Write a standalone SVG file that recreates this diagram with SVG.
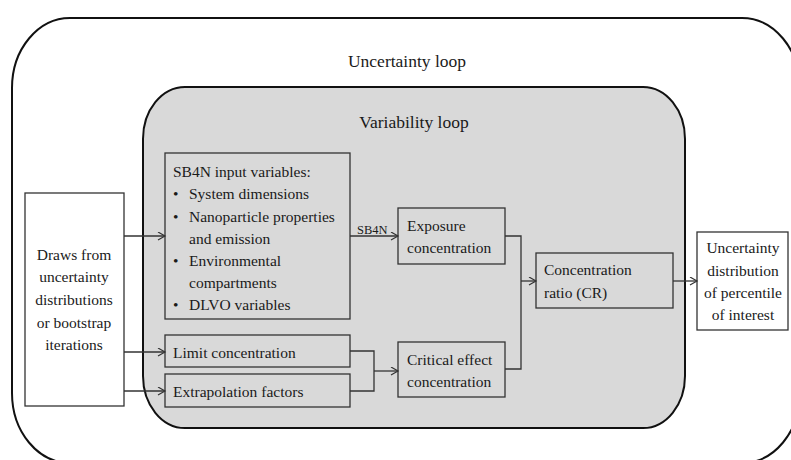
<svg xmlns="http://www.w3.org/2000/svg" width="791" height="460" viewBox="0 0 791 460">
<defs>
<marker id="arr" markerWidth="10" markerHeight="10" refX="8" refY="4" orient="auto" markerUnits="userSpaceOnUse">
<path d="M1,0 L8,4 L1,8" fill="none" stroke="#333" stroke-width="1.2"/>
</marker>
</defs>
<style>
text{font-family:"Liberation Serif","Times New Roman",serif;fill:#1a1a1a}
.t{font-size:15.5px}
.h{font-size:17.5px}
.s{font-size:12.5px}
.box{fill:none;stroke:#333;stroke-width:1.3}
.wbox{fill:#fff;stroke:#333;stroke-width:1.3}
.c{fill:none;stroke:#333;stroke-width:1.3}
.m{text-anchor:middle}
</style>
<rect width="791" height="460" fill="#fff"/>
<g id="uncertainty-loop">
<rect x="12" y="18" width="788" height="445" rx="58" ry="70" fill="#fff" stroke="#111" stroke-width="2"/>
<text class="h m" x="407" y="67">Uncertainty loop</text>
</g>
<g id="variability-loop">
<rect x="143" y="87" width="542" height="341" rx="42" ry="52" fill="#d9d9d9" stroke="#111" stroke-width="2"/>
<text class="h m" x="414" y="128">Variability loop</text>
</g>
<g id="draws">
<rect class="wbox" x="25" y="193" width="99" height="213"/>
<text class="t m" x="74" y="260">Draws from</text>
<text class="t m" x="74" y="282">uncertainty</text>
<text class="t m" x="74" y="305">distributions</text>
<text class="t m" x="74" y="328">or bootstrap</text>
<text class="t m" x="74" y="350">iterations</text>
</g>
<g id="sb4n-inputs">
<rect class="box" x="165" y="153" width="185" height="166"/>
<text class="t" x="173" y="177">SB4N input variables:</text>
<text class="t" x="173" y="199">•</text><text class="t" x="189" y="199">System dimensions</text>
<text class="t" x="173" y="222">•</text><text class="t" x="189" y="222">Nanoparticle properties</text>
<text class="t" x="189" y="244">and emission</text>
<text class="t" x="173" y="266">•</text><text class="t" x="189" y="266">Environmental</text>
<text class="t" x="189" y="288">compartments</text>
<text class="t" x="173" y="310">•</text><text class="t" x="189" y="310">DLVO variables</text>
</g>
<g id="limit">
<rect class="box" x="165" y="335" width="185" height="32"/>
<text class="t" x="173" y="358">Limit concentration</text>
</g>
<g id="extrapolation">
<rect class="box" x="165" y="374" width="185" height="33"/>
<text class="t" x="173" y="397">Extrapolation factors</text>
</g>
<g id="exposure">
<rect class="box" x="398" y="208" width="107" height="56"/>
<text class="t" x="407" y="231">Exposure</text>
<text class="t" x="407" y="253">concentration</text>
</g>
<g id="critical">
<rect class="box" x="398" y="342" width="107" height="55"/>
<text class="t" x="407" y="365">Critical effect</text>
<text class="t" x="407" y="387">concentration</text>
</g>
<g id="cr">
<rect class="box" x="536" y="253" width="137" height="55"/>
<text class="t" x="544" y="275">Concentration</text>
<text class="t" x="544" y="298">ratio (CR)</text>
</g>
<g id="result">
<rect class="wbox" x="697" y="232" width="91" height="98"/>
<text class="t m" x="743" y="253">Uncertainty</text>
<text class="t m" x="743" y="276">distribution</text>
<text class="t m" x="743" y="298">of percentile</text>
<text class="t m" x="743" y="320">of interest</text>
</g>
<g id="connectors">
<path class="c" d="M124,236 H165" marker-end="url(#arr)"/>
<path class="c" d="M124,352 H165" marker-end="url(#arr)"/>
<path class="c" d="M124,391 H165" marker-end="url(#arr)"/>
<path class="c" d="M350,236 H398" marker-end="url(#arr)"/>
<text class="s" x="357" y="234">SB4N</text>
<path class="c" d="M350,351 H374 V391 H350"/>
<path class="c" d="M374,371 H398" marker-end="url(#arr)"/>
<path class="c" d="M505,236 H521 V369 H505"/>
<path class="c" d="M521,281 H536" marker-end="url(#arr)"/>
<path class="c" d="M673,281 H697" marker-end="url(#arr)"/>
</g>
</svg>
